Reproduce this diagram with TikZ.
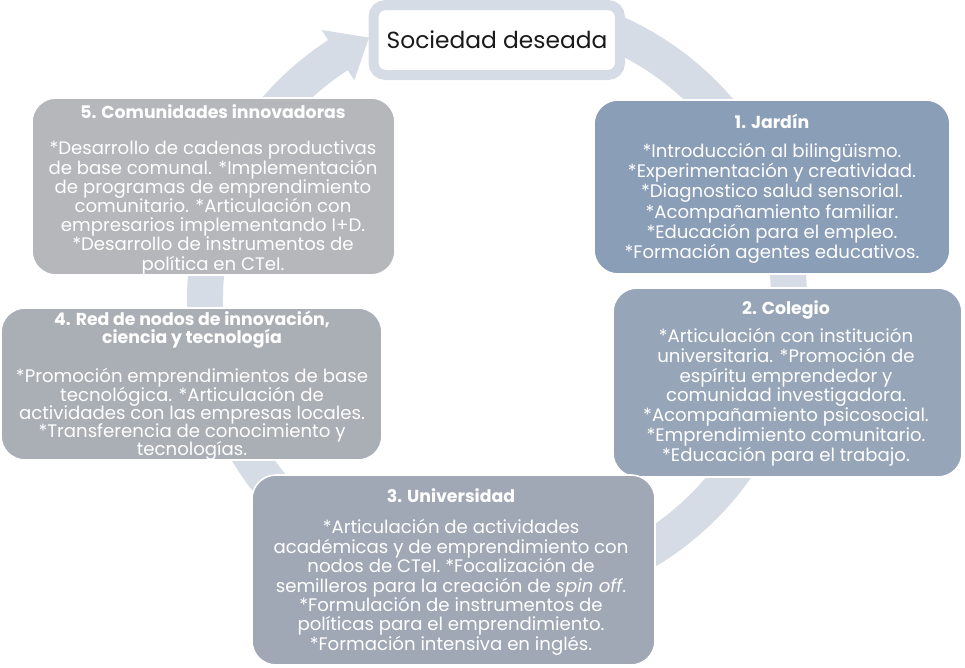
\documentclass[tikz,border=0pt]{standalone}
\usepackage{fontspec}
\setmainfont{Poppins}
\usetikzlibrary{calc,fit}
\definecolor{ringc}{HTML}{D6DCE5}
\definecolor{cA}{HTML}{8B9EB8}
\definecolor{cB}{HTML}{97A5B8}
\definecolor{cC}{HTML}{A0A8B5}
\definecolor{cD}{HTML}{AAAFB6}
\definecolor{cE}{HTML}{B6B7BA}
\definecolor{darktext}{HTML}{1A1A1A}
\newcommand\boxttl[1]{{\fontsize{13}{14}\selectfont\bfseries #1}}
\newcommand\bodyfont[1]{\fontsize{13.6}{#1}\selectfont\lineskiplimit=-30pt\lineskip=0pt}
\lineskiplimit=-30pt
\begin{document}
\begin{tikzpicture}[x=0.75pt,y=-0.75pt,
  box/.style={rounded corners=18pt, draw=white, line width=1.2pt, inner sep=0pt},
  txt/.style={text=white, align=center, inner sep=0pt},
  goalbox/.style={draw=ringc, line width=7.5pt, fill=white, rounded corners=9pt, inner sep=0pt}]
\useasboundingbox (0,0) rectangle (965,668);
\coordinate (C) at (497,300);
% circular arrow
\fill[ringc] ($(C)+(-100:310)$) arc[start angle=-100,end angle=237,radius=310]
  -- ($(C)+(237:322)$) -- ($(C)+(244:292)$) -- ($(C)+(237:262)$)
  -- ($(C)+(237:274)$) arc[start angle=237,end angle=-100,radius=274] -- cycle;
% goal
\node[goalbox, fit={(373.5,5)(620,75)}] (s) {};
\node[anchor=base, text=darktext, inner sep=0pt, font=\fontsize{17.5}{21}\selectfont] (st) at (497,48) {Sociedad deseada};
% boxes
\node[box, fill=cA, fit={(594,100)(950,274)}] (b1) {};
\node[box, fill=cB, fit={(613,288)(962,477)}] (b2) {};
\node[box, fill=cC, fit={(252,475)(655,665)}] (b3) {};
\node[box, fill=cD, fit={(1,308)(382,460)}] (b4) {};
\node[box, fill=cE, fit={(32,98)(395,275)}] (b5) {};
% texts
\node[txt, font=\bodyfont{15.2}] (t1) at (772,189) {\boxttl{1. Jardín}\\[6pt]
*Introducción al bilingüismo.\\
*Experimentación y creatividad.\\
*Diagnostico salud sensorial.\\
*Acompañamiento familiar.\\
*Educación para el empleo.\\
*Formación agentes educativos.};
\node[txt, font=\bodyfont{14.8}] (t2) at (786,383) {\boxttl{2. Colegio}\\[6.6pt]
*Articulación con institución\\
universitaria. *Promoción de\\
espíritu emprendedor y\\
comunidad investigadora.\\
*Acompañamiento psicosocial.\\
*Emprendimiento comunitario.\\
*Educación para el trabajo.};
\node[txt, font=\bodyfont{14.6}] (t3) at (451,572) {\boxttl{3. Universidad}\\[8.7pt]
*Articulación de actividades\\
académicas y de emprendimiento con\\
nodos de CTeI. *Focalización de\\
semilleros para la creación de \textit{spin off}.\\
*Formulación de instrumentos de\\
políticas para el emprendimiento.\\
*Formación intensiva en inglés.};
\node[txt, font=\bodyfont{13.7}] (t4) at (192,386) {\boxttl{4. Red de nodos de innovación,}\\
\boxttl{ciencia y tecnología}\\[15.6pt]
*Promoción emprendimientos de base\\
tecnológica. *Articulación de\\
actividades con las empresas locales.\\
*Transferencia de conocimiento y\\
tecnologías.};
\node[txt, font=\bodyfont{14.4}] (t5) at (213,190) {\boxttl{5. Comunidades innovadoras}\\[12.6pt]
*Desarrollo de cadenas productivas\\
de base comunal. *Implementación\\
de programas de emprendimiento\\
comunitario. *Articulación con\\
empresarios implementando I+D.\\
*Desarrollo de instrumentos de\\
política en CTeI.};
\end{tikzpicture}
\end{document}
